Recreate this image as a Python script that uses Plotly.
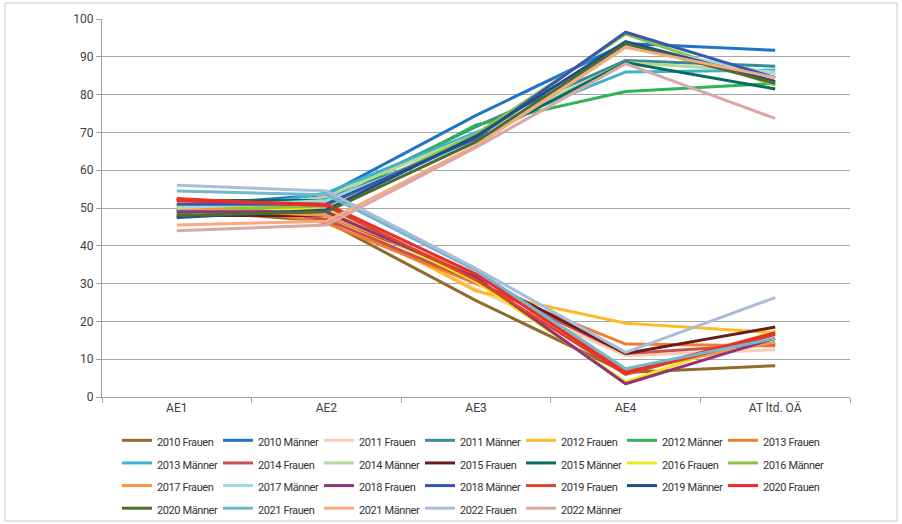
import plotly.graph_objects as go

categories = ["AE1", "AE2", "AE3", "AE4", "AT ltd. OÄ"]

series_names = [
    "2010 Frauen", "2010 Männer", "2011 Frauen", "2011 Männer",
    "2012 Frauen", "2012 Männer", "2013 Frauen", "2013 Männer",
    "2014 Frauen", "2014 Männer", "2015 Frauen", "2015 Männer",
    "2016 Frauen", "2016 Männer", "2017 Frauen", "2017 Männer",
    "2018 Frauen", "2018 Männer", "2019 Frauen", "2019 Männer",
    "2020 Frauen", "2020 Männer", "2021 Frauen", "2021 Männer",
    "2022 Frauen", "2022 Männer",
]

f2010 = [49.5, 46.5, 25.5, 6.5, 8.3]
m2010 = [50.5, 53.5, 74.5, 93.5, 91.7]
f2011 = [51.0, 47.5, 28.5, 11.0, 12.5]
m2011 = [49.0, 52.5, 71.5, 89.0, 87.5]
f2012 = [51.5, 49.0, 28.0, 19.5, 17.0]
m2012 = [48.5, 51.0, 72.0, 80.8, 83.0]
f2013 = [52.5, 46.0, 30.0, 14.0, 13.5]
m2013 = [47.5, 54.0, 70.0, 86.0, 86.5]
f2014 = [52.5, 47.0, 30.5, 11.5, 14.0]
m2014 = [47.5, 53.0, 69.5, 88.5, 86.0]
f2015 = [48.0, 48.0, 32.0, 11.5, 18.5]
m2015 = [52.0, 52.0, 68.0, 88.5, 81.5]
f2016 = [50.5, 49.5, 30.5, 4.0, 17.5]
m2016 = [49.5, 50.5, 69.5, 96.0, 82.5]
f2017 = [50.0, 48.0, 32.5, 7.0, 14.5]
m2017 = [50.0, 52.0, 67.5, 93.0, 85.5]
f2018 = [49.0, 49.0, 31.5, 3.5, 15.5]
m2018 = [51.0, 51.0, 68.5, 96.5, 84.5]
f2019 = [52.5, 50.5, 31.0, 6.0, 16.5]
m2019 = [47.5, 49.5, 69.0, 94.0, 83.5]
f2020 = [52.0, 51.0, 32.5, 6.5, 17.0]
m2020 = [48.0, 49.0, 67.5, 93.5, 83.0]
f2021 = [54.5, 53.5, 33.5, 7.5, 15.5]
m2021 = [45.5, 46.5, 66.5, 92.5, 84.5]
f2022 = [56.0, 54.5, 34.0, 11.8, 26.3]
m2022 = [44.0, 45.5, 66.0, 88.2, 73.7]

series_values = [
    f2010, m2010, f2011, m2011, f2012, m2012, f2013, m2013,
    f2014, m2014, f2015, m2015, f2016, m2016, f2017, m2017,
    f2018, m2018, f2019, m2019, f2020, m2020, f2021, m2021,
    f2022, m2022,
]

colors = [
    "#936A2A", "#1F74C4", "#FBCDB0", "#3A8A9A",
    "#FFBA26", "#2EB356", "#ED7D31", "#3BB3CF",
    "#C9504F", "#B5D99A", "#6B1A1F", "#0A6B5E",
    "#F2E619", "#8BC43F", "#F79646", "#9ED9E6",
    "#92347A", "#3A56B0", "#D9442B", "#1F4E8C",
    "#EE2A2A", "#4E6B2E", "#6FB8CE", "#F9A880",
    "#A9BCD9", "#D9A8A4",
]

y_ticks = [0, 10, 20, 30, 40, 50, 60, 70, 80, 90, 100]

fig = go.Figure()
for name, vals, col in zip(series_names, series_values, colors):
    fig.add_trace(go.Scatter(
        x=categories, y=vals, mode="lines",
        name='<span style="font-size:11px;letter-spacing:-0.4px">' + name + "</span>",
        line=dict(color=col, width=3),
    ))

font = "Roboto, Open Sans, sans-serif"
fig.update_layout(
    width=902, height=524,
    margin=dict(l=102, r=52, t=19, b=127, autoexpand=False),
    paper_bgcolor="white", plot_bgcolor="white",
    font=dict(family=font, size=12, color="#404040"),
    showlegend=True,
    legend=dict(
        orientation="h", xref="container", yref="container",
        x=117 / 902, y=1 - 424 / 524, xanchor="left", yanchor="top",
        font=dict(size=15.1, color="#333333"),
        entrywidth=56, entrywidthmode="pixels",
        itemwidth=30, tracegroupgap=0,
        bgcolor="rgba(0,0,0,0)",
    ),
    xaxis=dict(
        type="category", showgrid=False, showline=True, linecolor="#a0a0a0",
        linewidth=1, ticks="outside", tickson="boundaries", ticklen=5,
        tickcolor="#a0a0a0", tickfont=dict(size=12, color="#404040"),
        range=[-0.5, 4.5],
    ),
    yaxis=dict(
        range=[0, 100], tickvals=y_ticks, showgrid=True, gridcolor="#a6a6a6",
        gridwidth=1, showline=True, linecolor="#a0a0a0", linewidth=1,
        ticks="outside", ticklen=5, tickcolor="#a0a0a0", zeroline=False,
        tickfont=dict(size=12, color="#404040"),
    ),
    shapes=[dict(
        type="rect", xref="paper", yref="paper",
        x0=(5 - 102) / 748, x1=(897 - 102) / 748,
        y0=(397 - 521) / 378, y1=(397 - 3) / 378,
        line=dict(color="#c8c8c8", width=1), fillcolor="rgba(0,0,0,0)",
        layer="below",
    )],
)

fig.write_html(
    "out.html",
    config={"displayModeBar": False},
    post_script="document.body.style.margin='0';",
)
